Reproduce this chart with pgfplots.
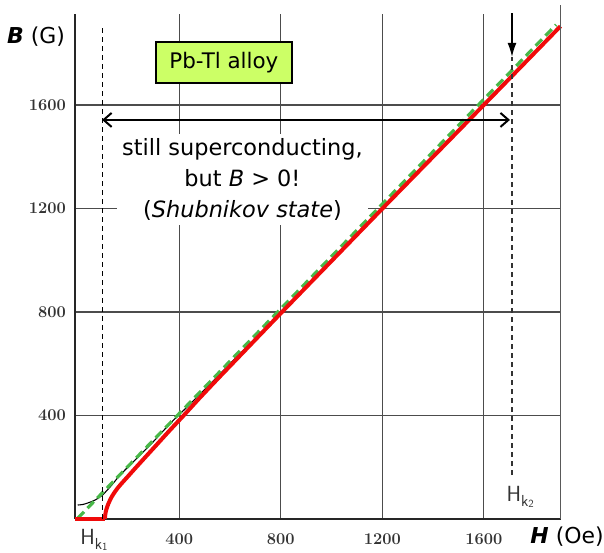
\documentclass[border=0pt]{standalone}
\usepackage{pgfplots}
\pgfplotsset{compat=1.18}
\usepackage{fontspec}
\newfontfamily\dejavu{DejaVu Sans}
\usetikzlibrary{arrows.meta}
\definecolor{boxgreen}{HTML}{CCFF66}
\definecolor{dgreen}{HTML}{48B848}
\definecolor{myred}{HTML}{F00A0A}
\newcommand{\tl}[1]{\hbox{\fontsize{16.5}{16.5}\selectfont\bfseries\color{black!80}#1}}
\begin{document}
\begin{tikzpicture}
\begin{axis}[
  at={(0,0)}, anchor=south west,
  x=0.2538bp, y=0.2588bp,
  xmin=-10, xmax=1904, ymin=0, ymax=1950,
  set layers,
  axis lines=left,
  axis line style={-, line width=2.4bp, black!85},
  xtick={400,800,1200,1600}, ytick={400,800,1200,1600},
  xticklabels={\tl{400},\tl{800},\tl{1200},\tl{1600}},
  yticklabels={\tl{400},\tl{800},\tl{1200},\tl{1600}},
  grid=major, grid style={black!70, line width=1.2bp},
  tick style={draw=none},
  clip=false,
  tick label style={inner sep=0pt},
  xticklabel style={anchor=north, yshift=-12bp},
  yticklabel style={anchor=east, xshift=-7bp},
]
% annotation (drawn first so curves stay on top)
\node[fill=white, align=center, inner xsep=5bp, inner ysep=4bp,
  font=\dejavu\fontsize{22.5}{31.5}\selectfont] at (axis cs:649,1312)
  {still superconducting,\\ but \textit{B} > 0!\\ (\textit{Shubnikov state})};
% original (black) curve
\addplot[black, line width=1.1bp, smooth, tension=0.4] coordinates {
(0,54) (20,56) (40,62) (68,73) (98,93) (134,131) (167,170) (232,234) (298,299)
(364,369) (430,432) (500,500) (600,600) (800,797) (1000,997) (1200,1199) (1600,1600) (1902,1904)};
% green dashed B = H line
\addplot[dgreen, line width=3.2bp, dash pattern=on 9bp off 5bp] coordinates {(0,3) (1885,1910)};
% red curve
\addplot[myred, line width=4bp] coordinates {(-10,0) (107,0)};
\addplot[myred, line width=4bp, smooth, tension=0.45] coordinates {
(107,0) (108,13) (110,26) (114,41) (122,62) (134,86) (150,110) (167,131) (200,167)
(232,202) (298,273) (364,344) (423,406) (475,462) (550,540) (650,642) (800,795)
(1000,997) (1200,1199) (1600,1600) (1902,1904)};
% Hk1 and Hk2 dashed lines
\addplot[black, line width=1.1bp, dash pattern=on 5bp off 4bp] coordinates {(99,0) (99,1900)};
\addplot[black!80, line width=1.1bp, dash pattern=on 5bp off 4bp] coordinates {(1711,170) (1711,1786)};
% right border
\draw[black!65, line width=1bp] (axis cs:1904,0) -- (axis cs:1904,1986);
% down arrow at Hk2
\draw[black, line width=1.1bp, -{Latex[length=14bp,width=9bp]}] (axis cs:1711,1955) -- (axis cs:1711,1786);
% double arrow
\draw[black, line width=2bp, {Straight Barb[length=8bp,width=14bp]}-{Straight Barb[length=8bp,width=14bp]}]
  (axis cs:96,1542) -- (axis cs:1703,1542);
% title box
\node[draw=black, line width=1.4bp, fill=boxgreen, minimum width=136bp, minimum height=41bp,
  inner sep=0pt, font=\dejavu\fontsize{21.5}{21.5}\selectfont] at (axis cs:576,1764) {Pb-Tl alloy};
% axis labels
\node[inner sep=0pt, font=\dejavu\fontsize{22}{22}\selectfont] at (axis cs:-164,1862) {\textbf{\textit{B}} (G)};
\node[inner sep=0pt, font=\dejavu\fontsize{22}{22}\selectfont] at (axis cs:1928,-70) {\textbf{\textit{H}} (Oe)};
% Hk labels
\node[inner sep=0pt, font=\sffamily\fontsize{22}{22}\selectfont, text=black!80] at (axis cs:64,-81)
  {H\raisebox{-5bp}{\fontsize{16}{16}\selectfont k\raisebox{-1bp}{\fontsize{11}{11}\selectfont 1}}};
\node[inner sep=0pt, font=\sffamily\fontsize{22}{22}\selectfont, text=black!80] at (axis cs:1743,85)
  {H\raisebox{-5bp}{\fontsize{16}{16}\selectfont k\raisebox{-1bp}{\fontsize{11}{11}\selectfont 2}}};
\end{axis}
\path (-75.2bp,-34bp) rectangle (528.8bp,519bp);
\end{tikzpicture}
\end{document}
